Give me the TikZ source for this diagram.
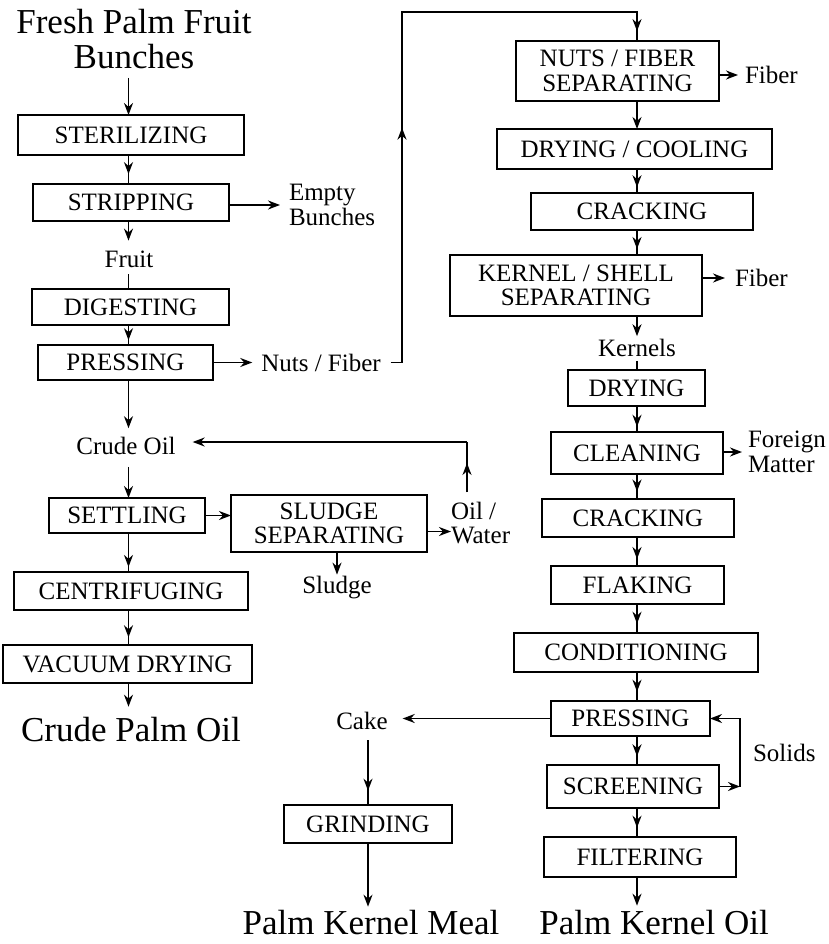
\documentclass[tikz,border=0pt]{standalone}
\usepackage{fontspec}
\setmainfont{Liberation Serif}
\usetikzlibrary{arrows.meta,decorations.markings}

\newcommand\fpBoxFont{\fontsize{25}{24.5}\selectfont}
\newcommand\fpBigFont{\fontsize{35}{35}\selectfont}

\tikzset{
  conn/.style={line width=1.8pt, line join=miter},
  arr/.style={conn, -{Stealth[length=12pt,width=9pt]}},
  midarr/.style={conn, postaction={decorate},
    decoration={markings, mark=at position #1 with {\arrow{Stealth[length=12pt,width=9pt]}}}},
  stepbox/.style 2 args={draw, line width=1.8pt, rectangle, inner sep=0pt,
    outer sep=0pt, align=center, font=\fpBoxFont,
    minimum width=#1pt, minimum height=#2pt},
  lbl/.style={inner sep=0pt, outer sep=0pt, align=left, font=\fpBoxFont},
  big/.style={inner sep=0pt, outer sep=0pt, align=center, font=\fpBigFont},
}

\begin{document}
\begin{tikzpicture}[x=1pt, y=-1pt]
\useasboundingbox (0,0) rectangle (828,944);

% spines of the two process columns
\coordinate (ls) at (128.5,0);
\coordinate (rs) at (637,0);

% ---------- palm oil line ----------
\node[big] (title) at (134,39) {Fresh Palm Fruit\\Bunches};
\node[stepbox={226}{40}] (ster) at (131,135) {STERILIZING};
\node[stepbox={196}{37}] (strip) at (131,202.5) {STRIPPING};
\node[lbl, anchor=west] (empty) at (289,205) {Empty\\Bunches};
\node[lbl] (fruit) at (129,259) {Fruit};
\node[stepbox={197}{36}] (dig) at (130.5,307) {DIGESTING};
\node[stepbox={175}{35}] (press) at (125.5,362.5) {PRESSING};
\node[lbl] (nuts) at (321,363) {Nuts / Fiber};
\node[lbl] (crude) at (126,446) {Crude Oil};
\node[stepbox={156}{35}] (settle) at (127,515.5) {SETTLING};
\node[stepbox={196}{57}] (sludge) at (329,523.5) {SLUDGE\\SEPARATING};
\node[lbl, anchor=west] (oilwater) at (451,523) {Oil /\\Water};
\node[lbl] (sludgelbl) at (337,588) {Sludge};
\node[stepbox={234}{38}] (centri) at (131,591) {CENTRIFUGING};
\node[stepbox={249}{38}] (vac) at (127.5,664) {VACUUM DRYING};
\node[big] (cpo) at (131,730) {Crude Palm Oil};

% ---------- palm kernel line ----------
\node[stepbox={203}{60}] (nfsep) at (617.5,71) {NUTS / FIBER\\SEPARATING};
\node[lbl, anchor=west] (fiber1) at (745,75) {Fiber};
\node[stepbox={275}{40}] (drycool) at (634.5,149) {DRYING / COOLING};
\node[stepbox={222}{37}] (crack1) at (642,211.5) {CRACKING};
\node[stepbox={252}{61}] (kssep) at (576,285.5) {KERNEL / SHELL\\SEPARATING};
\node[lbl, anchor=west] (fiber2) at (735,278) {Fiber};
\node[lbl] (kernels) at (637,348) {Kernels};
\node[stepbox={137}{36}] (dry) at (636.5,388) {DRYING};
\node[stepbox={172}{42}] (clean) at (637,453) {CLEANING};
\node[lbl, anchor=west] (foreign) at (748,452) {Foreign\\Matter};
\node[stepbox={192}{38}] (crack2) at (638,518) {CRACKING};
\node[stepbox={173}{38}] (flake) at (637.5,585) {FLAKING};
\node[stepbox={244}{39}] (cond) at (636,652.5) {CONDITIONING};
\node[stepbox={159}{35}] (press2) at (630.5,718.5) {PRESSING};
\node[lbl] (cake) at (362,721) {Cake};
\node[lbl, anchor=west] (solids) at (753,753) {Solids};
\node[stepbox={172}{43}] (screen) at (633,786.5) {SCREENING};
\node[stepbox={168}{38}] (grind) at (368,824) {GRINDING};
\node[stepbox={192}{40}] (filter) at (640,857) {FILTERING};
\node[big] (pkm) at (371,923) {Palm Kernel Meal};
\node[big] (pko) at (654,923) {Palm Kernel Oil};

% loop and offset points
\coordinate (nA) at (402,362.5);
\coordinate (nB) at (402,12);
\coordinate (owb) at (467,492);
\coordinate (owc) at (467,442);
\coordinate (cakeout) at (368,740);
\coordinate (sl) at (740,0);

% ---------- connectors, palm oil line ----------
\draw[arr, shorten <=9pt] (title.south -| ls) -- (ster.north -| ls);
\draw[midarr=0.66] (ster.south -| ls) -- (strip.north -| ls);
\draw[arr, shorten >=9pt] (strip.east |- empty.west) -- (empty.west);
\draw[arr, shorten >=10pt] (strip.south -| ls) -- (fruit.north -| ls);
\draw[conn, shorten <=7pt] (fruit.south -| ls) -- (dig.north -| ls);
\draw[midarr=0.76] (dig.south -| ls) -- (press.north -| ls);
\draw[arr, shorten >=9pt] (press.east) -- (press.east -| nuts.west);
\draw[conn, shorten <=10pt] (nuts.east |- nA) -- (nA) -- (nB) -- (nB -| rs) -- (nfsep.north -| rs);
\draw[midarr=0.67] (nA) -- (nB);
\draw[midarr=0.66] (nB -| rs) -- (nfsep.north -| rs);
\draw[arr, shorten >=9pt] (press.south -| ls) -- (crude.north -| ls);
\draw[arr, shorten <=12pt] (crude.south -| ls) -- (settle.north -| ls);
\draw[arr] (settle.east) -- (settle.east -| sludge.west);
\draw[arr] ([yshift=-8pt]sludge.east) -- ([yshift=-8pt]sludge.east -| oilwater.west);
\draw[conn] (owb) -- (owc);
\draw[midarr=0.58] (owb) -- (owc);
\draw[arr, shorten >=17pt] (owc) -- (owc -| crude.east);
\draw[arr, shorten >=2pt] (sludge.south -| sludgelbl) -- (sludgelbl.north);
\draw[midarr=0.87] (settle.south -| ls) -- (centri.north -| ls);
\draw[midarr=0.78] (centri.south -| ls) -- (vac.north -| ls);
\draw[arr, shorten >=11pt] (vac.south -| ls) -- (cpo.north -| ls);

% ---------- connectors, palm kernel line ----------
\draw[arr, shorten >=7pt] (nfsep.east |- fiber1.west) -- (fiber1.west);
\draw[arr] (nfsep.south -| rs) -- (drycool.north -| rs);
\draw[midarr=0.76] (drycool.south -| rs) -- (crack1.north -| rs);
\draw[midarr=0.76] (crack1.south -| rs) -- (kssep.north -| rs);
\draw[arr, shorten >=10pt] (kssep.east |- fiber2.west) -- (fiber2.west);
\draw[arr, shorten >=3pt] (kssep.south -| rs) -- (kernels.north -| rs);
\draw[conn, shorten <=4pt] (kernels.south -| rs) -- (dry.north -| rs);
\draw[midarr=0.8] (dry.south -| rs) -- (clean.north -| rs);
\draw[arr, shorten >=6pt] (clean.east |- foreign.west) -- (foreign.west);
\draw[midarr=0.7] (clean.south -| rs) -- (crack2.north -| rs);
\draw[midarr=0.76] (crack2.south -| rs) -- (flake.north -| rs);
\draw[midarr=0.68] (flake.south -| rs) -- (cond.north -| rs);
\draw[midarr=0.68] (cond.south -| rs) -- (press2.north -| rs);
\draw[arr, shorten >=15pt] (press2.west) -- (press2.west -| cake.east);
\draw[midarr=0.78] (cakeout) -- (grind.north);
\draw[arr, shorten >=4pt] (grind.south) -- (grind.south |- pkm.north);
\draw[midarr=0.7] (press2.south -| rs) -- (screen.north -| rs);
\draw[arr] (screen.east) -- (screen.east -| sl);
\draw[arr] (screen.east -| sl) -- (press2.east -| sl) -- (press2.east);
\draw[midarr=0.68] (screen.south -| rs) -- (filter.north -| rs);
\draw[arr, shorten >=5pt] (filter.south -| rs) -- (pko.north -| rs);
\end{tikzpicture}
\end{document}
